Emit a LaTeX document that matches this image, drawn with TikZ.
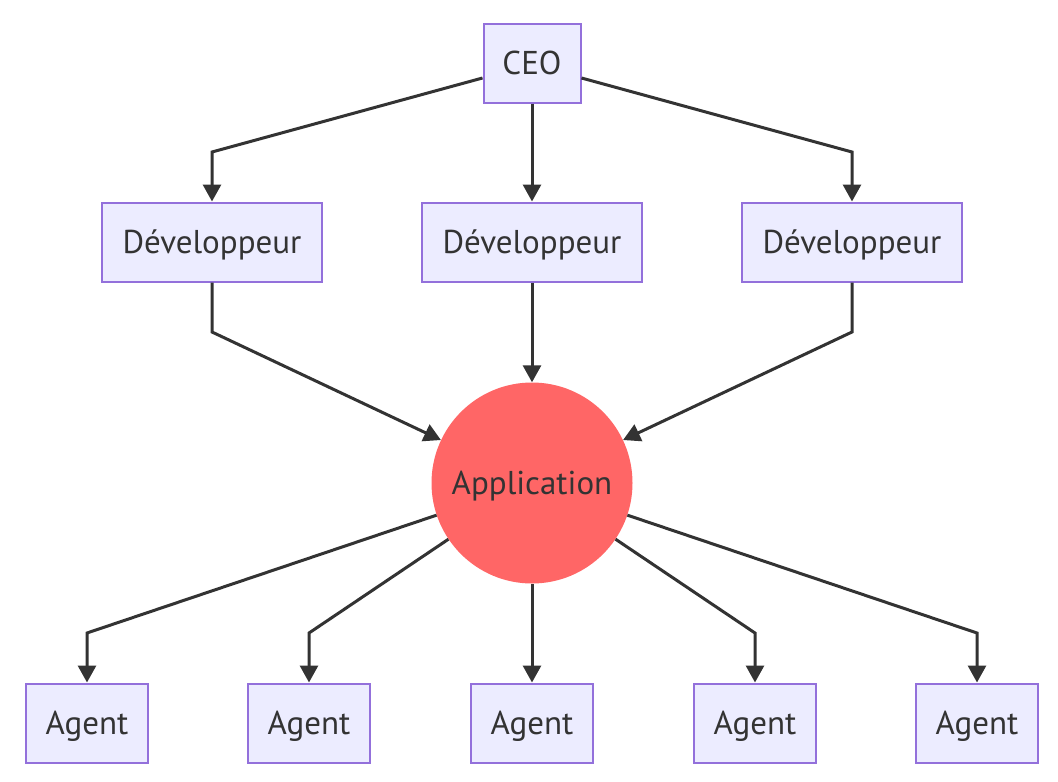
\documentclass[tikz,border=0pt]{standalone}
\usepackage{fontspec}
\setmainfont{PT Sans}
\usetikzlibrary{arrows.meta}
\definecolor{boxfill}{HTML}{ECECFF}
\definecolor{boxline}{HTML}{9370DB}
\definecolor{edge}{HTML}{333333}
\definecolor{appfill}{HTML}{FF6666}
\newcommand{\bltxt}[1]{\raisebox{-11.5pt}[0pt][0pt]{#1}}
\begin{document}
\begin{tikzpicture}[x=1pt,y=-1pt,
  box/.style={draw=boxline,fill=boxfill,line width=2pt,minimum height=79pt,inner sep=0pt,text=edge,font=\fontsize{33}{38}\selectfont},
  appnode/.style={circle,fill=appfill,minimum size=201pt,inner sep=0pt,text=edge,font=\fontsize{33}{38}\selectfont},
  conn/.style={draw=edge,line width=3pt,-{Triangle[length=17pt,width=18pt]}}]
\useasboundingbox (0,0) rectangle (1058,782);
\node[box,minimum width=97pt] (ceo) at (532,63) {\bltxt{CEO}};
\node[box,minimum width=220pt] (d1) at (212,242) {\bltxt{Développeur}};
\node[box,minimum width=220pt] (d2) at (532,242) {\bltxt{Développeur}};
\node[box,minimum width=220pt] (d3) at (852,242) {\bltxt{Développeur}};
\node[appnode] (app) at (532,483) {\bltxt{Application}};
\node[box,minimum width=122pt] (a1) at (87,723) {\bltxt{Agent}};
\node[box,minimum width=122pt] (a2) at (309,723) {\bltxt{Agent}};
\node[box,minimum width=122pt] (a3) at (532,723) {\bltxt{Agent}};
\node[box,minimum width=122pt] (a4) at (755,723) {\bltxt{Agent}};
\node[box,minimum width=122pt] (a5) at (977,723) {\bltxt{Agent}};
\coordinate (c1) at (212,152);
\coordinate (c3) at (852,152);
\coordinate (e1) at (212,332);
\coordinate (e3) at (852,332);
\coordinate (g1) at (87,633);
\coordinate (g2) at (309,633);
\coordinate (g4) at (755,633);
\coordinate (g5) at (977,633);
\draw[conn] ([yshift=-15pt]ceo.west) -- (c1) -- (d1);
\draw[conn] (ceo) -- (d2);
\draw[conn] ([yshift=-15pt]ceo.east) -- (c3) -- (d3);
\draw[conn] (d1) -- (e1) -- (app);
\draw[conn] (d2) -- (app);
\draw[conn] (d3) -- (e3) -- (app);
\draw[conn] (app) -- (g1) -- (a1);
\draw[conn] (app) -- (g2) -- (a2);
\draw[conn] (app) -- (a3);
\draw[conn] (app) -- (g4) -- (a4);
\draw[conn] (app) -- (g5) -- (a5);
\end{tikzpicture}
\end{document}
